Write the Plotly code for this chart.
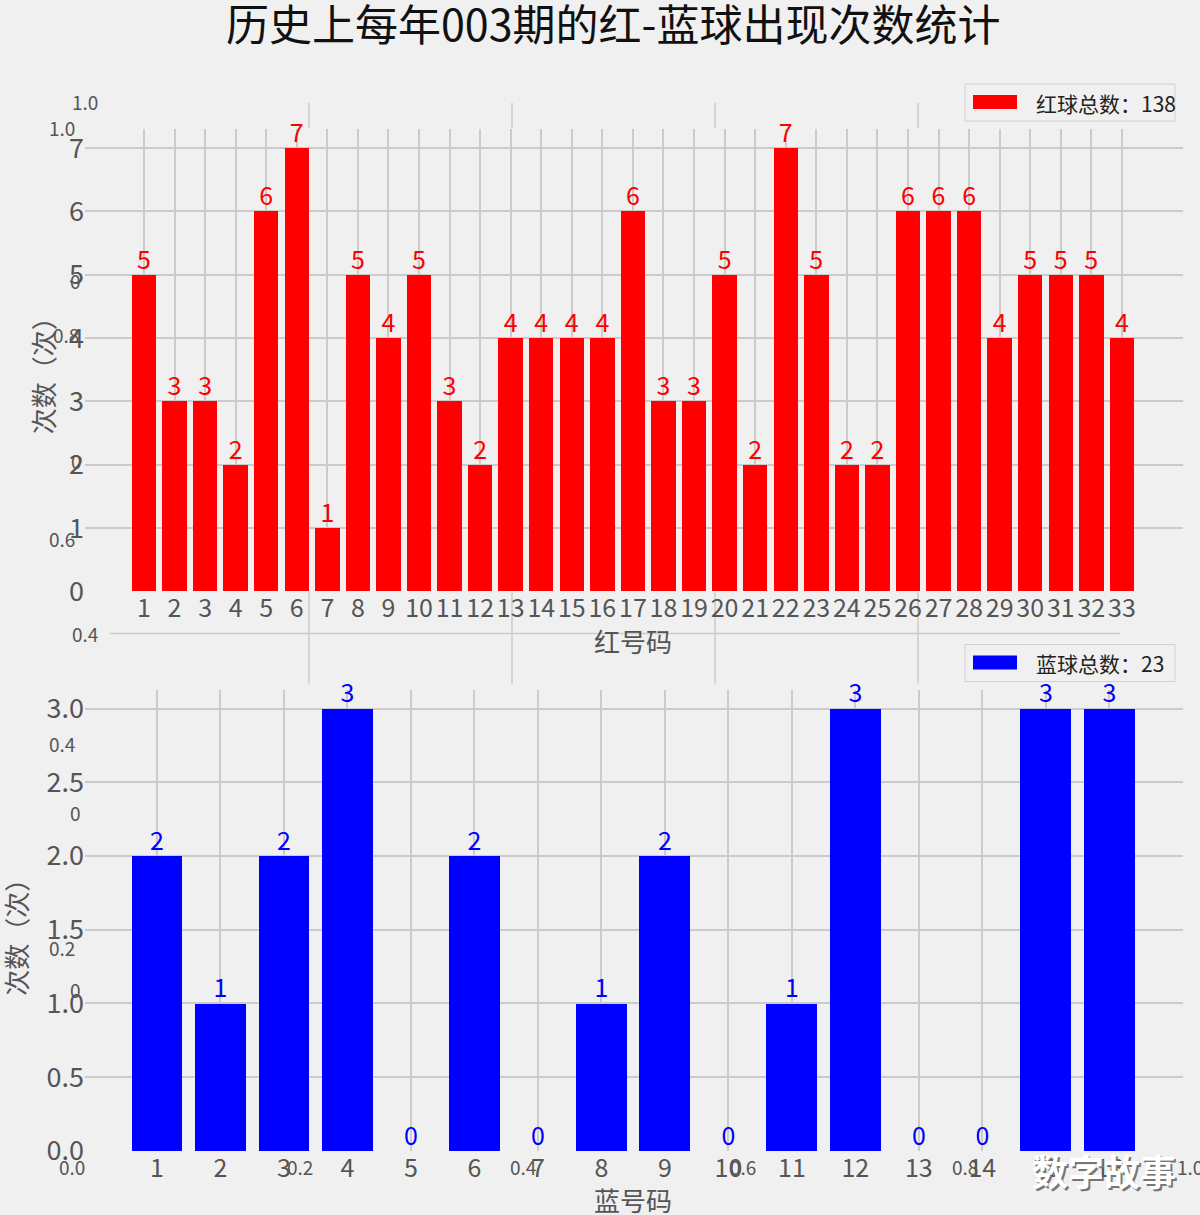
import plotly.graph_objects as go

# ---------------- data ----------------
red_numbers = list(range(1, 34))
red_counts = [5, 3, 3, 2, 6, 7, 1, 5, 4, 5, 3, 2, 4, 4, 4, 4, 6, 3, 3, 5,
              2, 7, 5, 2, 2, 6, 6, 6, 4, 5, 5, 5, 4]
blue_numbers = list(range(1, 17))
blue_counts = [2, 1, 2, 3, 0, 2, 0, 1, 2, 0, 1, 3, 0, 0, 3, 3]

title_text = "历史上每年003期的红-蓝球出现次数统计"
red_xlabel = "红号码"
blue_xlabel = "蓝号码"
ylabel = "次数（次）"
red_legend = "红球总数：" + str(sum(red_counts))
blue_legend = "蓝球总数：" + str(sum(blue_counts))
blue_yticks = [0.0, 0.5, 1.0, 1.5, 2.0, 2.5, 3.0]
watermark = "数字故事"

# ---------------- layout helpers ----------------
W, H = 1200, 1215          # reference pixel grid
FIG_H = 1235               # page height (screenshot squeezes to 1215)
FONT = "Noto Sans CJK SC, Noto Sans, sans-serif"
BG = "#f0f0f0"
GRID = "#cbcbcb"
TICK = "#555555"
YSHIFT = 2


def px(x):
    return x / W


def py(y):
    return 1 - (y - YSHIFT) / H


fig = go.Figure()

fig.add_trace(go.Bar(x=red_numbers, y=red_counts, width=0.8,
                     marker=dict(color="#ff0000", line=dict(width=0)),
                     xaxis="x", yaxis="y", showlegend=False))
fig.add_trace(go.Scatter(x=red_numbers, y=red_counts, mode="text",
                         text=[str(v) for v in red_counts],
                         textposition="top center",
                         textfont=dict(color="#ff0000", size=25, family=FONT),
                         cliponaxis=False, xaxis="x", yaxis="y",
                         showlegend=False))
fig.add_trace(go.Bar(x=blue_numbers, y=blue_counts, width=0.8,
                     marker=dict(color="#0000ff", line=dict(width=0)),
                     xaxis="x2", yaxis="y2", showlegend=False))
fig.add_trace(go.Scatter(x=blue_numbers, y=blue_counts, mode="text",
                         text=[str(v) for v in blue_counts],
                         textposition="top center",
                         textfont=dict(color="#0000ff", size=25, family=FONT),
                         cliponaxis=False, xaxis="x2", yaxis="y2",
                         showlegend=False))

axis_common = dict(showgrid=True, gridcolor=GRID, gridwidth=1.5,
                   zeroline=False, showline=False, ticks="",
                   tickfont=dict(size=25, color=TICK, family=FONT))
yfont = dict(size=27, color=TICK, family=FONT)

fig.update_layout(
    width=W, height=FIG_H,
    paper_bgcolor=BG, plot_bgcolor=BG,
    margin=dict(l=0, r=0, t=0, b=0),
    font=dict(family=FONT, color=TICK),
    showlegend=False,
    bargap=0,
    xaxis=dict(domain=[px(85), px(1183)], range=[-0.93, 35.0],
               tickvals=red_numbers, tickangle=0, anchor="y",
               **axis_common),
    yaxis=dict(domain=[py(591), py(129)], range=[0, 7.30], dtick=1,
               anchor="x", **{**axis_common, "tickfont": yfont}),
    xaxis2=dict(domain=[px(85), px(1183)], range=[-0.133, 17.16],
                tickvals=blue_numbers, tickangle=0, anchor="y2",
                **axis_common),
    yaxis2=dict(domain=[py(1150), py(689)], range=[0, 3.129],
                tickvals=blue_yticks, tickformat=".1f",
                anchor="x2", **{**axis_common, "tickfont": yfont}),
)

annotations = []
shapes = []

# title
annotations.append(dict(text=title_text, x=px(613), y=py(22), xref="paper",
                        yref="paper", showarrow=False,
                        font=dict(size=43, color="#111111", family=FONT),
                        xanchor="center", yanchor="middle"))
# axis titles
for t, x, y, ang in [(ylabel, 42, 369, -90), (ylabel, 16, 930, -90),
                     (red_xlabel, 633, 640, 0), (blue_xlabel, 633, 1199, 0)]:
    annotations.append(dict(text=t, x=px(x), y=py(y), xref="paper",
                            yref="paper", showarrow=False, textangle=ang,
                            font=dict(size=26, color=TICK, family=FONT),
                            xanchor="center", yanchor="middle"))

# ghost gridlines from overlapping background axes
for gx in [309, 512, 715, 918]:
    shapes.append(dict(type="line", xref="paper", yref="paper",
                       x0=px(gx), x1=px(gx), y0=py(103), y1=py(128),
                       line=dict(color=GRID, width=1.5), layer="below"))
    shapes.append(dict(type="line", xref="paper", yref="paper",
                       x0=px(gx), x1=px(gx), y0=py(592), y1=py(683),
                       line=dict(color=GRID, width=1.5), layer="below"))
shapes.append(dict(type="line", xref="paper", yref="paper",
                   x0=px(110), x1=px(1120), y0=py(633), y1=py(633),
                   line=dict(color=GRID, width=1.5), layer="below"))

# ghost tick labels
ghost_labels = [("1.0", 85, 101), ("1.0", 62, 127), ("0", 75, 280),
                ("0.8", 66, 334), ("0", 76, 460), ("0.6", 62, 538),
                ("0.4", 85, 633), ("0.4", 62, 743), ("0", 75, 812),
                ("0.2", 62, 947), ("0", 75, 989),
                ("0.0", 72, 1166), ("0.2", 300, 1166), ("0.4", 523, 1166),
                ("0.6", 743, 1166), ("0.8", 965, 1166), ("1.0", 1190, 1166)]
for t, x, y in ghost_labels:
    annotations.append(dict(text=t, x=px(x), y=py(y), xref="paper",
                            yref="paper", showarrow=False,
                            font=dict(size=19, color=TICK, family=FONT),
                            xanchor="center", yanchor="middle"))

# legends (drawn manually)
for (label, color, top, bot, pt, pb) in [
        (red_legend, "#ff0000", 84, 121, 95, 109),
        (blue_legend, "#0000ff", 644, 681, 655, 669)]:
    shapes.append(dict(type="rect", xref="paper", yref="paper",
                       x0=px(965), x1=px(1175), y0=py(bot), y1=py(top),
                       line=dict(color="#d0d0d0", width=1), fillcolor=BG))
    shapes.append(dict(type="rect", xref="paper", yref="paper",
                       x0=px(973), x1=px(1017), y0=py(pb), y1=py(pt),
                       line=dict(width=0), fillcolor=color))
    annotations.append(dict(text=label, x=px(1034), y=py((top + bot) / 2),
                            xref="paper", yref="paper", showarrow=False,
                            font=dict(size=21, color="#222222", family=FONT),
                            xanchor="left", yanchor="middle"))

# watermark with shadow
annotations.append(dict(text=watermark, x=px(1106), y=py(1171), xref="paper",
                        yref="paper", showarrow=False,
                        font=dict(size=36, color="#777777", family=FONT,
                                  weight=700),
                        xanchor="center", yanchor="middle"))
annotations.append(dict(text=watermark, x=px(1104), y=py(1169), xref="paper",
                        yref="paper", showarrow=False,
                        font=dict(size=36, color="#ffffff", family=FONT,
                                  weight=700),
                        xanchor="center", yanchor="middle"))

fig.update_layout(annotations=annotations, shapes=shapes)

fig.write_html(
    "out.html",
    config={"displayModeBar": False},
    post_script="document.body.style.margin='0px';"
                "document.body.style.overflow='hidden';"
                "document.body.style.background='#f0f0f0';")
